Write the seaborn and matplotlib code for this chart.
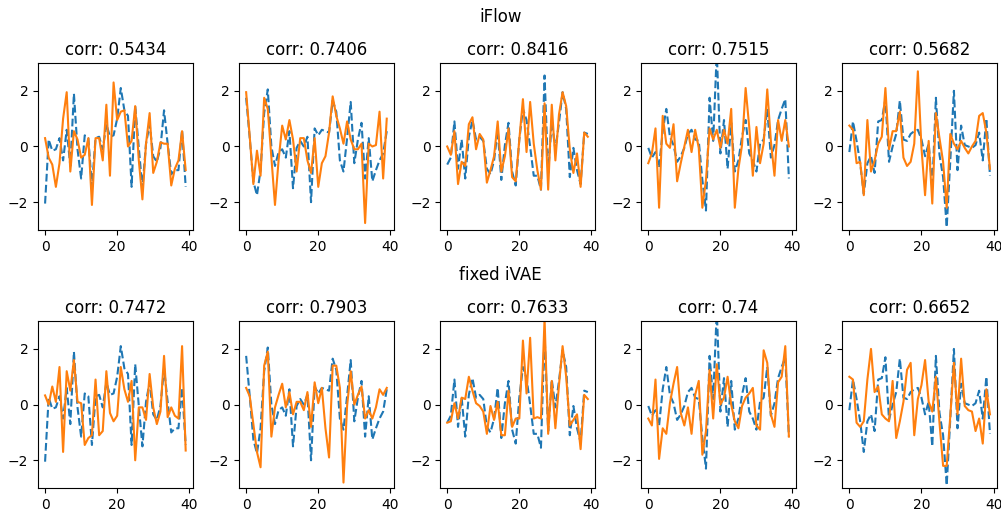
import matplotlib
matplotlib.use("Agg")
import matplotlib.pyplot as plt
import seaborn as sns
import numpy as np

row_titles = ["iFlow", "fixed iVAE"]
corr_iflow = ["0.5434", "0.7406", "0.8416", "0.7515", "0.5682"]
corr_ivae = ["0.7472", "0.7903", "0.7633", "0.74", "0.6652"]

# true sources (dashed, shared by both rows)
src1 = [-2.05, 0.25, -0.15, -0.1, 0.3, -0.5, 0.6, -0.7, 1.9, -0.1, -1.15, 0.4, 0.3, -1.45, 0.3, 0.35, -0.1, 0.8, 0.35, 0.4,
        1.0, 2.1, 1.3, 1.1, -1.45, 1.45, -0.05, -1.5, 0.1, 0.8, -0.35, -0.55, -0.05, 1.3, 0.1, -1.0, -0.85, -0.85, 0.6, -1.45]
src2 = [1.75, 0.3, -1.25, -1.75, -0.85, 1.2, 2.05, 0.0, -0.7, -0.2, -0.1, -0.4, 0.55, -1.5, -0.05, 0.2, 0.0, 0.35, -2.0, 0.65,
        0.4, 0.6, 0.55, 0.5, 1.65, 1.25, -0.5, -0.9, 0.3, 1.6, -0.6, 0.25, 0.85, -1.15, 0.3, -1.25, -0.85, -0.5, -0.25, 0.55]
src3 = [-0.65, -0.4, 0.9, -0.8, 0.25, -1.15, 0.35, 0.95, 0.25, 0.35, 0.2, -0.8, -1.0, -0.5, 0.6, -1.2, 0.05, 0.85, -0.9, -1.4,
        0.25, 1.35, 0.95, 0.0, -1.05, -1.05, -1.55, 2.55, -0.95, 0.9, -0.1, 0.85, 1.95, 1.35, -1.1, -0.05, -0.85, -1.35, 0.5, 0.45]
src4 = [-0.05, -0.4, -0.2, -0.75, 0.55, 1.35, 0.35, 0.05, -0.55, -0.35, -0.05, 0.45, 0.6, 0.25, 0.2, -1.2, -2.3, 1.75, 0.2, 3.4,
        -0.25, 0.95, -0.8, 0.85, -0.9, -0.5, 0.35, 0.95, -0.25, -0.5, -0.9, 0.1, 0.25, 1.35, -0.4, 0.05, 0.95, 1.35, 1.7, -1.15]
src5 = [-0.2, 0.9, 0.2, -0.6, -1.7, -0.6, -0.35, -0.95, 0.9, 0.95, 1.7, -0.55, 0.0, 0.45, 1.65, 0.25, 0.2, 0.45, 0.55, 0.6,
        0.25, -0.35, 0.1, -1.5, 1.75, -0.3, -1.1, -2.9, -0.5, 2.0, -0.85, 0.75, 0.05, 0.0, -0.05, 0.05, 0.5, -0.5, 1.0, -1.05]

# iFlow estimates (solid)
iflow1 = [0.3, -0.4, -0.65, -1.45, -0.6, 1.0, 1.95, -0.9, 0.55, 0.25, -0.4, -0.3, 0.3, -2.1, 0.3, 0.3, -0.5, 1.5, -1.05, 2.3,
          0.95, 1.25, 1.3, 0.0, 0.2, 1.45, -0.5, -1.9, 0.1, 1.2, -0.95, -0.55, 0.15, 0.1, 0.1, -1.4, -0.8, -0.5, 0.55, -0.85]
iflow2 = [1.95, 0.35, -1.35, -0.15, -1.05, 1.75, 1.35, -0.4, -2.1, -0.5, 0.75, 0.25, 0.95, 0.25, -0.9, 0.3, 0.3, -0.5, -0.95, 0.3,
          -1.45, -0.6, -0.35, 0.5, 1.8, 1.1, 0.65, 0.1, 0.9, 0.25, -0.1, -0.1, 0.1, -2.75, 0.1, 0.0, 0.05, 1.25, -1.15, 1.0]
iflow3 = [0.0, -0.3, 0.55, -1.35, -0.55, -0.7, 0.8, 1.05, -0.1, 0.45, 0.25, -1.3, -0.85, -0.35, 0.9, -0.9, -0.35, 0.65, -1.1, -1.25,
          0.25, 1.7, -0.2, 1.6, 0.1, -0.85, -1.55, 1.55, -1.55, 1.5, -0.5, 1.15, 1.95, 1.45, -0.1, -0.95, -0.25, -1.45, 0.5, 0.35]
iflow4 = [-0.6, -0.25, 0.65, -2.2, 1.1, 0.1, -0.05, 0.8, -1.25, -0.6, 0.0, 0.6, -0.2, 0.6, -0.05, -2.2, -1.2, 0.65, 0.25, 0.6,
          -0.05, 0.6, 0.1, 1.35, -2.2, -0.8, 0.05, 2.1, 0.7, -1.05, 0.7, -0.6, 0.1, 2.05, 0.2, -1.05, 0.95, 0.2, 0.95, 0.0]
iflow5 = [0.75, 0.6, -0.6, -0.55, -1.75, 0.95, -0.9, -0.5, 0.1, 0.35, 2.1, -0.1, 0.55, 0.55, 1.25, -0.4, -0.7, -0.55, 0.1, 2.7,
          -0.05, -1.75, 0.2, -2.05, 1.2, 0.3, -0.55, -2.2, 0.45, 0.1, -0.1, 0.2, -0.05, -0.25, 0.0, 0.2, 1.1, 1.2, 0.5, -0.8]

# fixed iVAE estimates (solid)
ivae1 = [0.33, 0.0, 0.65, 0.1, 1.35, -1.7, 1.2, 0.5, 1.6, 0.1, 0.05, -1.45, -1.2, -1.1, 0.9, -1.1, -0.95, 1.2, -0.3, -0.6,
         -0.4, 1.35, 0.55, 0.1, 0.85, -2.0, -0.1, -0.1, -0.55, 1.1, -0.1, -0.7, -0.25, 1.75, -0.45, -0.1, -0.4, -0.5, 2.1, -1.65]
ivae2 = [0.6, 0.3, -0.7, -1.7, -2.25, 1.4, 1.9, -1.15, -0.1, 0.35, 0.75, -0.1, 0.45, -0.35, 0.1, 0.1, -0.2, 0.45, -0.8, 0.8,
         0.05, 0.6, -0.85, -1.9, 1.4, 1.4, 0.6, -2.8, -0.05, 1.2, 0.0, 0.35, 0.65, -0.5, -0.2, -0.5, -0.1, 0.55, 0.35, 0.6]
ivae3 = [-0.65, -0.6, 0.05, -0.5, 0.25, 0.2, 1.0, 0.5, 0.05, -0.05, -0.25, -1.05, -0.05, -0.55, 0.1, -1.1, -1.1, 0.5, -0.8, -0.5,
         -0.5, 2.3, 0.4, 2.4, -0.5, -0.45, -0.5, 3.1, -1.05, 0.85, -0.85, 0.7, 2.1, 1.0, -0.75, -0.55, -0.35, -1.6, 0.35, 0.2]
ivae4 = [-0.5, -0.75, 0.9, -1.95, -0.85, -1.05, 0.05, 0.75, 1.35, -0.3, -0.75, -0.1, -1.05, 0.35, 0.85, -1.8, -0.95, 1.25, -0.5, 1.45,
         0.0, 0.25, 1.0, 0.0, -0.6, -0.85, -0.05, 0.25, 0.4, 0.6, -0.75, -0.9, 1.95, 1.5, -0.35, -0.8, 0.8, 1.0, 2.1, -1.15]
ivae5 = [1.0, 0.9, -0.65, -0.8, -0.6, 0.9, 2.0, 0.45, 0.65, -0.35, -0.5, -0.6, 0.85, -1.2, -0.6, 0.1, 1.25, 1.5, -1.1, 0.2,
         0.7, 1.6, 0.1, -0.25, 1.0, -0.65, -2.2, -2.2, -0.4, 1.5, -0.35, 1.65, -0.05, -0.2, -0.25, -0.95, -0.5, -1.4, 0.55, -0.35]

sources = [src1, src2, src3, src4, src5]
estimates = [[iflow1, iflow2, iflow3, iflow4, iflow5], [ivae1, ivae2, ivae3, ivae4, ivae5]]
corrs = [corr_iflow, corr_ivae]
xticks = [0, 20, 40]
yticks = [-2, 0, 2]

fig, axes = plt.subplots(2, 5, figsize=(10.01, 5.16), dpi=100)
fig.subplots_adjust(left=0.038, right=0.996, top=0.878, bottom=0.054, wspace=0.3, hspace=0.545)

for r in range(2):
    for c in range(5):
        ax = axes[r, c]
        t = np.arange(len(sources[c]))
        sns.lineplot(x=t, y=sources[c], ax=ax, color="#1f77b4", linestyle="--", linewidth=1.5)
        sns.lineplot(x=t, y=estimates[r][c], ax=ax, color="#ff7f0e", linewidth=1.5)
        ax.set_ylim(-3, 3)
        ax.set_xticks(xticks)
        ax.set_yticks(yticks)
        ax.set_title("corr: " + corrs[r][c], fontsize=12)

fig.text(0.5, 1 - 17 / 516, row_titles[0], ha="center", va="center", fontsize=12)
fig.text(0.5, 1 - 275 / 516, row_titles[1], ha="center", va="center", fontsize=12)

fig.savefig("out.png", dpi=100)
